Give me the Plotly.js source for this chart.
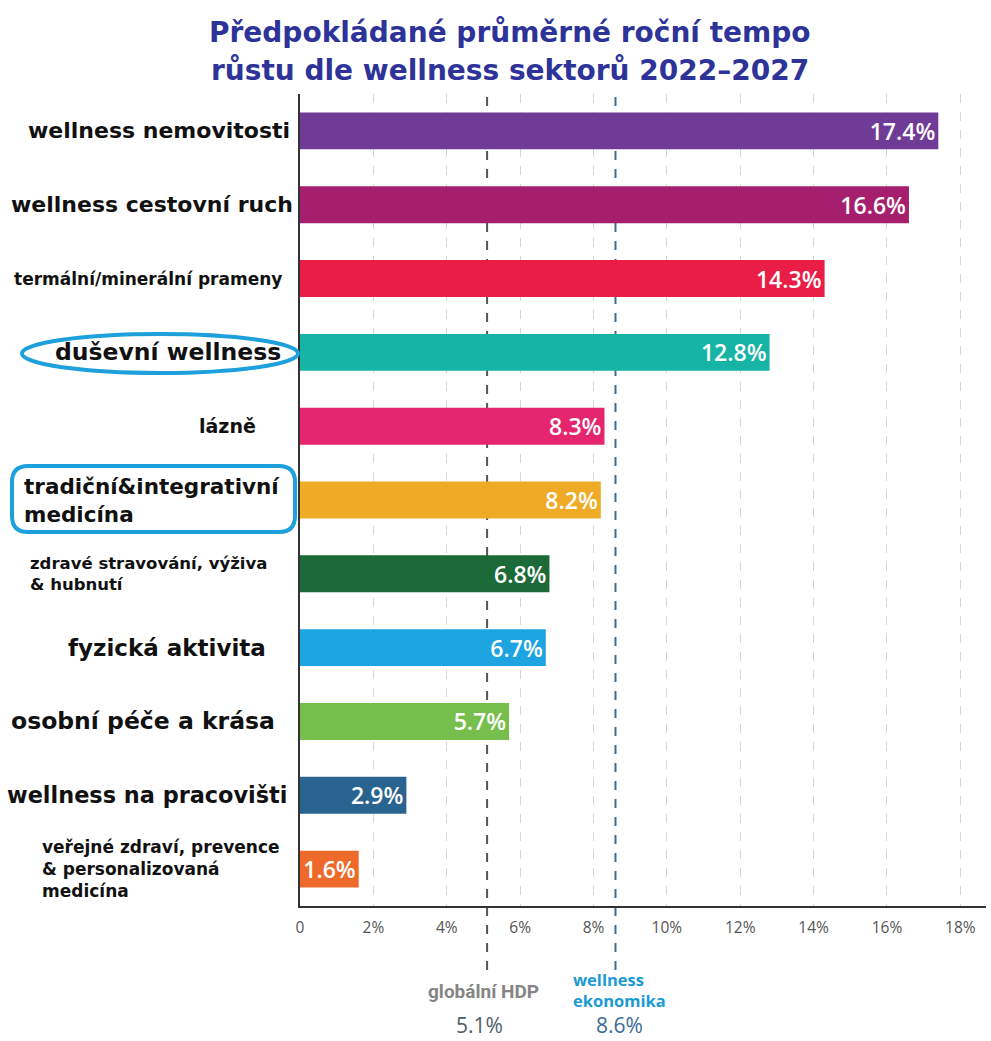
<!DOCTYPE html>
<html>
<head>
<meta charset="utf-8">
<script src="https://cdn.plot.ly/plotly-3.0.1.min.js"></script>
<style>body{margin:0;background:#fff}#chart{width:991px;height:1041px}</style>
</head>
<body>
<div id="chart"></div>
<script>
// ---- data ----
const sectors = [
  "wellness nemovitosti",
  "wellness cestovní ruch",
  "termální/minerální prameny",
  "duševní wellness",
  "lázně",
  "tradiční&integrativní medicína",
  "zdravé stravování, výživa & hubnutí",
  "fyzická aktivita",
  "osobní péče a krása",
  "wellness na pracovišti",
  "veřejné zdraví, prevence & personalizovaná medicína"
];
const sectorLabels = [
  "wellness nemovitosti",
  "wellness cestovní ruch",
  "termální/minerální prameny",
  "duševní wellness",
  "lázně",
  "tradiční&integrativní<br>medicína",
  "zdravé stravování, výživa<br>& hubnutí",
  "fyzická aktivita",
  "osobní péče a krása",
  "wellness na pracovišti",
  "veřejné zdraví, prevence<br>& personalizovaná<br>medicína"
];
const growth = [17.4, 16.6, 14.3, 12.8, 8.3, 8.2, 6.8, 6.7, 5.7, 2.9, 1.6];
const barColors = ["#6f3b96", "#a51f6e", "#e91d46", "#16b4a4", "#e6256f", "#efab26",
                   "#1d6a39", "#1ca5e0", "#76bf4c", "#28648f", "#ee6a2a"];
const tickVals = [0, 2, 4, 6, 8, 10, 12, 14, 16, 18];
const tickText = ["0", "2%", "4%", "6%", "8%", "10%", "12%", "14%", "16%", "18%"];
const globalGDP = 5.1;
const wellnessEconomy = 8.6;
const titleLines = ["Předpokládané průměrné roční tempo", "růstu dle wellness sektorů 2022–2027"];
const refLabels = ["globální HDP", "wellness<br>ekonomika"];

// ---- layout helpers (pixel geometry) ----
const W = 991, H = 1041;
const L = 300, R = 5, T = 94, B = 135;
const pw = W - L - R, ph = H - T - B;
const px = x => (x - L) / pw;          // pixel x -> paper x
const py = y => (H - B - y) / ph;      // pixel y -> paper y

// label styles: [anchor, pixel x, font size]
const labelStyle = [
  ["right", 292, 22], ["right", 295, 22], ["right", 284, 17], ["right", 283, 23.5],
  ["right", 258, 19], ["left", 22, 21.5], ["left", 28, 16.5], ["right", 268, 23],
  ["right", 277, 23.5], ["right", 289, 22.4], ["left", 40, 17]
];

const annotations = sectors.map((s, i) => ({
  xref: "paper", yref: "y", x: px(labelStyle[i][1]), y: s,
  xanchor: labelStyle[i][0], yanchor: "middle", align: "left",
  text: "<b>" + sectorLabels[i] + "</b>", showarrow: false,
  font: {family: "DejaVu Sans", size: labelStyle[i][2], color: "#111"}
}));

// title lines
[33, 70].forEach((yy, i) => annotations.push({
  xref: "paper", yref: "paper", x: px(510), y: py(yy), xanchor: "center", yanchor: "middle",
  text: "<b>" + titleLines[i] + "</b>", showarrow: false,
  font: {family: "DejaVu Sans", size: 28, color: "#2d3398"}
}));

annotations.push(
  {xref: "paper", yref: "paper", x: px(483), y: py(991), xanchor: "center", yanchor: "middle",
   text: "<b>" + refLabels[0] + "</b>", showarrow: false,
   font: {family: "Roboto", size: 19, color: "#858585"}},
  {xref: "paper", yref: "paper", x: px(571), y: py(990), xanchor: "left", yanchor: "middle", align: "left",
   text: "<b>" + refLabels[1] + "</b>", showarrow: false,
   font: {family: "Open Sans", size: 16.5, color: "#1b9ad6"}},
  {xref: "paper", yref: "paper", x: px(479), y: py(1025), xanchor: "center", yanchor: "middle",
   text: globalGDP.toFixed(1) + "%", showarrow: false,
   font: {family: "Open Sans", size: 21, color: "#4f5d6b"}},
  {xref: "paper", yref: "paper", x: px(619), y: py(1025), xanchor: "center", yanchor: "middle",
   text: wellnessEconomy.toFixed(1) + "%", showarrow: false,
   font: {family: "Open Sans", size: 21, color: "#3d6a95"}}
);

// rounded rectangle path in paper coordinates
function roundRect(x0p, y0p, x1p, y1p, r) {
  const x0 = px(x0p), x1 = px(x1p), yt = py(y0p), yb = py(y1p);
  const rx = r / pw, ry = r / ph;
  return `M ${x0+rx},${yt} L ${x1-rx},${yt} Q ${x1},${yt} ${x1},${yt-ry} L ${x1},${yb+ry} Q ${x1},${yb} ${x1-rx},${yb} ` +
         `L ${x0+rx},${yb} Q ${x0},${yb} ${x0},${yb+ry} L ${x0},${yt-ry} Q ${x0},${yt} ${x0+rx},${yt} Z`;
}

const shapes = [
  {type: "line", xref: "x", yref: "paper", x0: globalGDP, x1: globalGDP, y0: py(970), y1: 1,
   line: {color: "#555", width: 2, dash: "dash"}, layer: "below"},
  {type: "line", xref: "x", yref: "paper", x0: wellnessEconomy, x1: wellnessEconomy, y0: py(970), y1: 1,
   line: {color: "#3d6a95", width: 2, dash: "dash"}, layer: "below"},
  {type: "circle", xref: "paper", yref: "paper", x0: px(22), x1: px(298), y0: py(373), y1: py(334),
   line: {color: "#1ea0dc", width: 4}},
  {type: "path", xref: "paper", yref: "paper", path: roundRect(12, 466, 295, 532, 16),
   line: {color: "#1ea0dc", width: 4}}
];

const trace = {
  type: "bar", orientation: "h",
  x: growth, y: sectors,
  width: 0.5,
  marker: {color: barColors},
  text: growth.map(v => v.toFixed(1) + "%"),
  textposition: "inside", insidetextanchor: "end", constraintext: "none",
  textfont: {family: "Open Sans", size: 23, color: "#fff", weight: 600},
  hoverinfo: "skip"
};

const layout = {
  width: W, height: H,
  margin: {l: L, r: R, t: T, b: B},
  paper_bgcolor: "#fff", plot_bgcolor: "#fff",
  showlegend: false,
  xaxis: {range: [0, 18.7], tickvals: tickVals, ticktext: tickText,
          showgrid: true, gridcolor: "#d6d6d6", griddash: "dash", gridwidth: 1,
          zeroline: false, showline: true, linecolor: "#333", linewidth: 2,
          ticks: "", ticklabelstandoff: 6,
          tickfont: {family: "Open Sans", size: 15.5, color: "#555"}, fixedrange: true},
  yaxis: {type: "category", categoryarray: sectors, range: [10.5, -0.5],
          showticklabels: false, showgrid: false, zeroline: false,
          showline: true, linecolor: "#333", linewidth: 2, ticks: "", fixedrange: true},
  annotations: annotations,
  shapes: shapes
};

Plotly.newPlot("chart", [trace], layout, {displayModeBar: false, staticPlot: true});
</script>
</body>
</html>
